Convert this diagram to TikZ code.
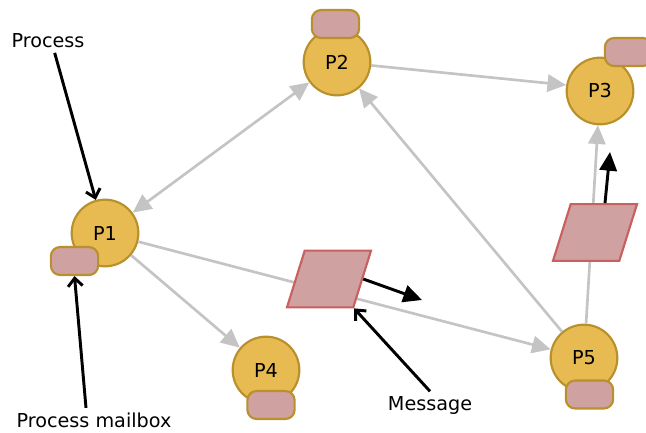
\documentclass[tikz,border=0pt]{standalone}
\usepackage{fontspec}
\setmainfont{DejaVu Sans}
\usetikzlibrary{arrows.meta, shapes.geometric}

\definecolor{procfill}{HTML}{E8BA52}
\definecolor{procedge}{HTML}{B8902C}
\definecolor{boxfill}{HTML}{CFA1A1}
\definecolor{msgedge}{HTML}{C8605F}
\definecolor{linkgray}{HTML}{C4C4C4}

\begin{document}
\begin{tikzpicture}[x=0.75pt, y=-0.75pt,
  font=\fontsize{14.4}{17}\selectfont,
  >={Triangle[length=14pt,width=13pt]},
  proc/.style={circle, draw=procedge, fill=procfill, line width=1.6pt,
    minimum size=50pt, inner sep=0pt},
  mbox/.style={rectangle, rounded corners=7pt, draw=procedge, fill=boxfill,
    line width=1.6pt, minimum width=35.5pt, minimum height=21pt},
  msg/.style={trapezium, trapezium left angle=70, trapezium right angle=110,
    trapezium stretches=true, draw=msgedge, fill=boxfill, line width=1.6pt,
    minimum width=63pt, minimum height=42.5pt, inner sep=1pt},
  link/.style={draw=linkgray, line width=2pt, ->},
  pointer/.style={line width=2.2pt, -{Straight Barb[length=6pt,width=11pt]}},
  flow/.style={line width=2.2pt, -{Triangle[length=14pt,width=13pt]}}]
  \useasboundingbox (0,0) rectangle (646,432);

  % processes
  \node [proc] (p1) at (105,233) {P1};
  \node [proc] (p2) at (337,62) {P2};
  \node [proc] (p3) at (600,91) {P3};
  \node [proc] (p4) at (266,370) {P4};
  \node [proc] (p5) at (584,358) {P5};

  \draw [link, <->] (p1) -- (p2);
  \draw [link] (p2) -- (p3.170);
  \draw [link] (p1) -- (p4);
  \draw [link] (p1) -- (p5);
  \draw [link] (p5) -- (p2);
  \draw [link] (p5) -- (p3);

  % mailboxes
  \node [mbox] (b1) at (74.5,261) {};
  \node [mbox] (b2) at (335.5,24) {};
  \node [mbox] (b3) at (628.5,52) {};
  \node [mbox] (b4) at (271,405) {};
  \node [mbox] (b5) at (589.5,394.5) {};

  % messages
  \node [msg] (m1) at (329,279) {};
  \node [msg] (m2) at (595,232.5) {};
  \coordinate (m1to) at (422,300);
  \coordinate (m2to) at (610,152);
  \draw [flow] (m1.east) -- (m1to);
  \draw [flow] ([xshift=7.5pt]m2.north) -- (m2to);

  % labels
  \node (lproc) at (48,41) {Process};
  \node (lmbox) at (94,420) {Process mailbox};
  \node (lmsg) at (430,405) {Message};
  \draw [pointer] ([xshift=5pt]lproc.south) -- (p1);
  \draw [pointer] ([xshift=-6pt]lmbox.north) -- (b1.south);
  \draw [pointer] (lmsg.north) -- (m1.bottom right corner);
\end{tikzpicture}
\end{document}
